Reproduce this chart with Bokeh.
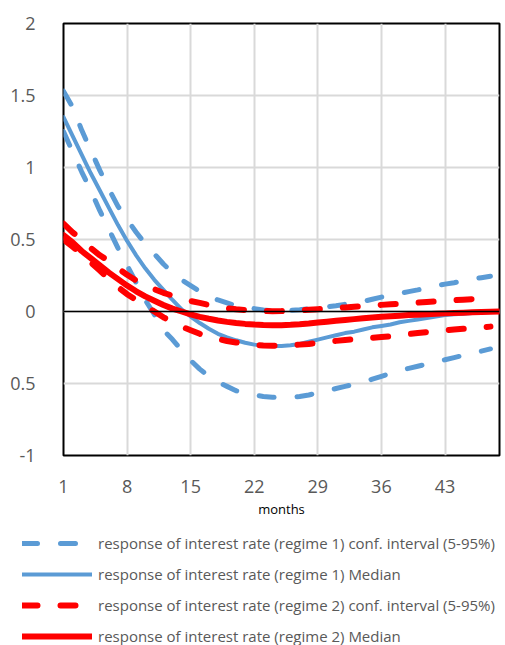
import numpy as np
from bokeh.plotting import figure
from bokeh.models import ColumnDataSource, Range1d, Span, Legend, LegendItem, FixedTicker
from bokeh.embed import file_html
from bokeh.resources import INLINE

months = list(range(1, 50))
nan = float("nan")

# response of interest rate (regime 1) conf. interval (5-95%) - upper / lower
reg1_upper = [1.53, 1.42, 1.26, 1.12, 0.98, 0.85, 0.73, 0.64, 0.55, 0.47,
              0.40, 0.33, 0.27, 0.22, 0.18, 0.14, 0.11, 0.08, 0.06, 0.04,
              0.03, 0.02, 0.01, 0.005, 0.005, 0.008, 0.012, 0.018, 0.025, 0.032,
              0.04, 0.05, 0.06, 0.07, 0.085, 0.10, 0.112, 0.125, 0.138, 0.15,
              0.165, 0.178, 0.19, 0.20, 0.212, 0.225, 0.235, 0.245, nan]
reg1_lower = [1.25, 1.11, 0.97, 0.84, 0.70, 0.57, 0.44, 0.32, 0.20, 0.08,
              -0.02, -0.13, -0.195, -0.27, -0.34, -0.40, -0.45, -0.49, -0.52, -0.55,
              -0.565, -0.58, -0.59, -0.595, -0.60, -0.597, -0.59, -0.58, -0.565, -0.55,
              -0.535, -0.52, -0.505, -0.49, -0.47, -0.45, -0.43, -0.41, -0.395, -0.38,
              -0.365, -0.35, -0.335, -0.32, -0.305, -0.29, -0.275, -0.26, nan]
# response of interest rate (regime 1) Median
reg1_median = [1.35, 1.22, 1.09, 0.96, 0.84, 0.72, 0.60, 0.49, 0.39, 0.30,
               0.22, 0.15, 0.08, 0.015, -0.035, -0.08, -0.12, -0.155, -0.18, -0.20,
               -0.217, -0.23, -0.237, -0.24, -0.24, -0.235, -0.225, -0.21, -0.195, -0.18,
               -0.165, -0.15, -0.14, -0.125, -0.11, -0.10, -0.09, -0.075, -0.065, -0.055,
               -0.045, -0.035, -0.025, -0.02, -0.015, -0.01, -0.007, -0.003, 0.0]
# response of interest rate (regime 2) conf. interval (5-95%) - upper / lower
reg2_upper = [0.61, 0.55, 0.50, 0.44, 0.39, 0.35, 0.30, 0.255, 0.215, 0.18,
              0.155, 0.13, 0.11, 0.09, 0.073, 0.06, 0.045, 0.033, 0.022, 0.015,
              0.01, 0.006, 0.003, 0.002, 0.003, 0.005, 0.008, 0.012, 0.016, 0.02,
              0.024, 0.028, 0.033, 0.038, 0.042, 0.046, 0.05, 0.054, 0.058, 0.062,
              0.066, 0.07, 0.074, 0.078, 0.082, 0.086, 0.09, 0.094, nan]
reg2_lower = [0.50, 0.45, 0.40, 0.34, 0.285, 0.225, 0.17, 0.12, 0.08, 0.04,
              0.0, -0.04, -0.075, -0.105, -0.13, -0.155, -0.175, -0.19, -0.205, -0.215,
              -0.225, -0.232, -0.236, -0.238, -0.237, -0.234, -0.23, -0.225, -0.218, -0.21,
              -0.204, -0.198, -0.193, -0.187, -0.182, -0.177, -0.172, -0.165, -0.157, -0.15,
              -0.143, -0.137, -0.131, -0.125, -0.12, -0.115, -0.11, -0.105, nan]
# response of interest rate (regime 2) Median
reg2_median = [0.53, 0.48, 0.42, 0.37, 0.32, 0.27, 0.225, 0.18, 0.14, 0.105,
               0.075, 0.045, 0.02, 0.0, -0.02, -0.037, -0.05, -0.062, -0.072, -0.08,
               -0.086, -0.09, -0.093, -0.095, -0.095, -0.092, -0.088, -0.083, -0.077, -0.071,
               -0.065, -0.059, -0.053, -0.047, -0.042, -0.037, -0.033, -0.029, -0.025, -0.022,
               -0.019, -0.016, -0.013, -0.01, -0.008, -0.006, -0.004, -0.002, 0.0]

x_ticks = [1, 8, 15, 22, 29, 36, 43]
y_ticks = [-1, -0.5, 0, 0.5, 1, 1.5, 2]
y_tick_labels = {-1: "-1", -0.5: "0.5", 0: "0", 0.5: "0.5", 1: "1", 1.5: "1.5", 2: "2"}

legend_labels = [
    "response of interest rate (regime 1) conf. interval (5-95%)",
    "response of interest rate (regime 1) Median",
    "response of interest rate (regime 2) conf. interval (5-95%)",
    "response of interest rate (regime 2) Median",
]

src = ColumnDataSource(dict(m=months, b_hi=reg1_upper, b_lo=reg1_lower, b_med=reg1_median,
                            r_hi=reg2_upper, r_lo=reg2_lower, r_med=reg2_median))

FONT = "Open Sans"
BLUE = "#5b9bd5"
RED = "#ff0000"
DASH = "15 23"

p = figure(width=505, height=520, output_backend="svg", toolbar_location=None,
           x_range=Range1d(1, 49), y_range=Range1d(-1, 2),
           min_border_left=63, min_border_right=6, min_border_top=23, min_border_bottom=65)
p.background_fill_color = "white"
p.border_fill_color = "white"
p.outline_line_color = "black"
p.outline_line_width = 2

for ax in (p.xaxis[0], p.yaxis[0]):
    ax.axis_line_color = None
    ax.major_tick_line_color = None
    ax.minor_tick_line_color = None
    ax.major_label_text_font = FONT
    ax.major_label_text_color = "#595959"
    ax.major_label_text_font_size = "18px"

p.xaxis.ticker = FixedTicker(ticks=x_ticks)
p.yaxis.ticker = FixedTicker(ticks=y_ticks)
p.yaxis.major_label_overrides = y_tick_labels
p.yaxis.major_label_standoff = 22
p.xaxis.major_label_standoff = 18
p.xaxis.axis_label = "months"
p.xaxis.axis_label_text_font = FONT
p.xaxis.axis_label_text_font_style = "normal"
p.xaxis.axis_label_text_font_size = "13px"
p.xaxis.axis_label_text_color = "black"
p.xaxis.axis_label_standoff = 4

p.xgrid.grid_line_color = "#d9d9d9"
p.xgrid.grid_line_width = 2
p.ygrid.grid_line_color = "#d9d9d9"
p.ygrid.grid_line_width = 2

p.add_layout(Span(location=0, dimension="width", line_color="black", line_width=1.5))


def draw(fig):
    r = {}
    r["b_hi"] = fig.line("m", "b_hi", source=src, line_color=BLUE, line_width=5, line_dash=DASH, line_cap="round")
    r["b_lo"] = fig.line("m", "b_lo", source=src, line_color=BLUE, line_width=5, line_dash=DASH, line_cap="round")
    r["b_med"] = fig.line("m", "b_med", source=src, line_color=BLUE, line_width=4, line_cap="round")
    r["r_hi"] = fig.line("m", "r_hi", source=src, line_color=RED, line_width=6, line_dash=DASH, line_cap="round")
    r["r_lo"] = fig.line("m", "r_lo", source=src, line_color=RED, line_width=6, line_dash=DASH, line_cap="round")
    r["r_med"] = fig.line("m", "r_med", source=src, line_color=RED, line_width=6, line_cap="round")
    return r


draw(p)

# legend panel below the chart (its lines lie outside its own ranges, only the legend shows)
p2 = figure(width=505, height=125, output_backend="svg", toolbar_location=None,
            x_range=Range1d(100, 101), y_range=Range1d(100, 101),
            x_axis_location=None, y_axis_location=None,
            min_border_left=0, min_border_right=0, min_border_top=0, min_border_bottom=0)
p2.outline_line_color = None
p2.xgrid.visible = False
p2.ygrid.visible = False
p2.background_fill_color = "white"
p2.border_fill_color = "white"
rr = draw(p2)

legend = Legend(items=[
    LegendItem(label=legend_labels[0], renderers=[rr["b_hi"]]),
    LegendItem(label=legend_labels[1], renderers=[rr["b_med"]]),
    LegendItem(label=legend_labels[2], renderers=[rr["r_hi"]]),
    LegendItem(label=legend_labels[3], renderers=[rr["r_med"]]),
], location=(22, -1))
legend.background_fill_alpha = 0
legend.border_line_color = None
legend.padding = 0
legend.margin = 0
legend.spacing = 11
legend.glyph_width = 70
legend.glyph_height = 20
legend.label_height = 20
legend.label_standoff = 6
legend.label_text_font = FONT
legend.label_text_font_size = "15px"
legend.label_text_color = "#595959"
p2.add_layout(legend, "center")

html = file_html([p, p2], INLINE)
open("out.html", "w").write(html)
